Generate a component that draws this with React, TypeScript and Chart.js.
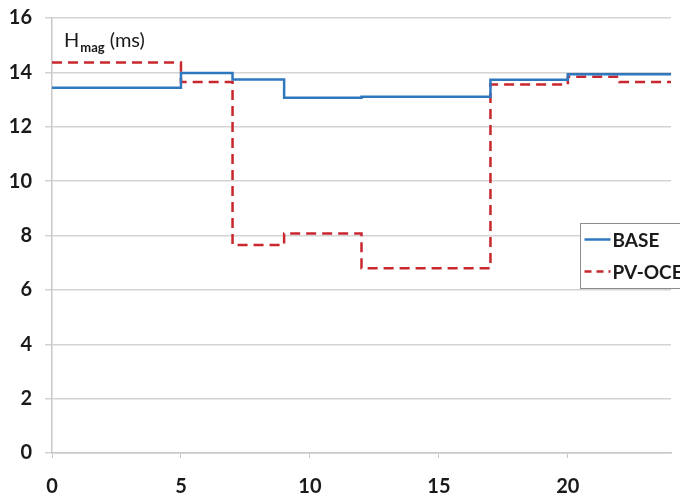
import React, { useEffect, useRef } from "react";
import { Chart, registerables } from "chart.js";

Chart.register(...registerables);

const X_TICKS = [0, 5, 10, 15, 20];
const Y_TICKS = [0, 2, 4, 6, 8, 10, 12, 14, 16];

const BASE_BREAKS = [0, 5, 7, 9, 12, 17, 20, 24];
const BASE_VALUES = [13.43, 13.98, 13.74, 13.07, 13.1, 13.73, 13.93];

const PV_BREAKS = [0, 5, 7, 9, 12, 17, 20, 22, 24];
const PV_VALUES = [14.36, 13.65, 7.65, 8.07, 6.8, 13.55, 13.84, 13.65];

const SERIES_LABELS = ["BASE", "PV-OCE"];
const TITLE_MAIN = "H";
const TITLE_SUB = "mag";
const TITLE_REST = " (ms)";

const BLUE = "#2f78bf";
const RED = "#c8272e";
const FONT = "Lato, 'Open Sans', sans-serif";

function stepPoints(breaks: number[], values: number[]) {
  const pts = values.map((v, i) => ({ x: breaks[i], y: v }));
  pts.push({ x: breaks[breaks.length - 1], y: values[values.length - 1] });
  return pts;
}

const overlayPlugin = {
  id: "overlay",
  afterDraw(chart: any) {
    const ctx = chart.ctx as CanvasRenderingContext2D;
    const area = chart.chartArea;
    ctx.save();
    // title with subscript
    ctx.fillStyle = "#1a1a1a";
    ctx.textBaseline = "alphabetic";
    ctx.textAlign = "left";
    const tx = area.left + 12;
    const ty = area.top + 29;
    ctx.font = `20px ${FONT}`;
    ctx.fillText(TITLE_MAIN, tx, ty);
    let w = ctx.measureText(TITLE_MAIN).width + 1;
    ctx.font = `bold 13px ${FONT}`;
    ctx.fillText(TITLE_SUB, tx + w, ty + 5);
    w += ctx.measureText(TITLE_SUB).width;
    ctx.font = `20px ${FONT}`;
    ctx.fillText(TITLE_REST, tx + w, ty);

    // legend box
    const bx = 580.5;
    const by = 223.5;
    const bw = 120;
    const bh = 65;
    ctx.fillStyle = "#ffffff";
    ctx.fillRect(bx, by, bw, bh);
    ctx.strokeStyle = "#8c8c8c";
    ctx.lineWidth = 1;
    ctx.strokeRect(bx, by, bw, bh);
    const rows = [by + 16, by + 48];
    chart.data.datasets.forEach((ds: any, i: number) => {
      const y = rows[i];
      ctx.strokeStyle = ds.borderColor;
      ctx.lineWidth = ds.borderWidth;
      ctx.setLineDash(ds.borderDash ? [7, 5] : []);
      ctx.beginPath();
      ctx.moveTo(bx + 4, y);
      ctx.lineTo(bx + 30, y);
      ctx.stroke();
      ctx.setLineDash([]);
      ctx.fillStyle = "#1a1a1a";
      ctx.font = `bold 19px ${FONT}`;
      ctx.textBaseline = "middle";
      ctx.fillText(ds.label, bx + 32, y + 1);
    });
    ctx.restore();
  },
};

export default function App() {
  const ref = useRef<HTMLCanvasElement | null>(null);
  useEffect(() => {
    if (!ref.current) return;
    const chart = new Chart(ref.current, {
      type: "line",
      data: {
        datasets: [
          {
            label: SERIES_LABELS[0],
            data: stepPoints(BASE_BREAKS, BASE_VALUES),
            borderColor: BLUE,
            borderWidth: 2.5,
            stepped: "before",
            pointRadius: 0,
            fill: false,
          },
          {
            label: SERIES_LABELS[1],
            data: stepPoints(PV_BREAKS, PV_VALUES),
            borderColor: RED,
            borderWidth: 2.5,
            borderDash: [10, 6],
            stepped: "before",
            pointRadius: 0,
            fill: false,
          },
        ],
      },
      options: {
        animation: false,
        responsive: false,
        maintainAspectRatio: false,
        layout: { padding: { top: 0, right: 9, left: 0, bottom: 0 } },
        plugins: { legend: { display: false }, tooltip: { enabled: false } },
        scales: {
          x: {
            type: "linear",
            min: 0,
            max: 24,
            afterBuildTicks: (s: any) => {
              s.ticks = X_TICKS.map((v) => ({ value: v }));
            },
            afterFit: (s: any) => {
              s.height = 46;
            },
            grid: {
              drawOnChartArea: false,
              color: "#c8c8c8",
              tickLength: 5,
            },
            border: { color: "#c8c8c8", width: 1.5 },
            ticks: {
              color: "#1a1a1a",
              font: { family: FONT, size: 20, weight: "bold" },
              padding: 17,
              maxRotation: 0,
            },
          },
          y: {
            type: "linear",
            min: 0,
            max: 16,
            afterBuildTicks: (s: any) => {
              s.ticks = Y_TICKS.map((v) => ({ value: v }));
            },
            afterFit: (s: any) => {
              s.width = 52;
              s.paddingTop = 18;
            },
            grid: { color: "#d4d4d4", tickLength: 7, lineWidth: 1.5 },
            border: { color: "#c8c8c8", width: 1.5 },
            ticks: {
              color: "#1a1a1a",
              font: { family: FONT, size: 20, weight: "bold", lineHeight: 1.2 },
              padding: 13,
            },
          },
        },
      },
      plugins: [overlayPlugin],
    });
    return () => chart.destroy();
  }, []);
  return (
    <div style={{ position: "fixed", left: 0, top: 0, width: 680, height: 499, background: "#fff" }}>
      <canvas ref={ref} width={680} height={499} style={{ display: "block", width: 680, height: 499 }} />
    </div>
  );
}
